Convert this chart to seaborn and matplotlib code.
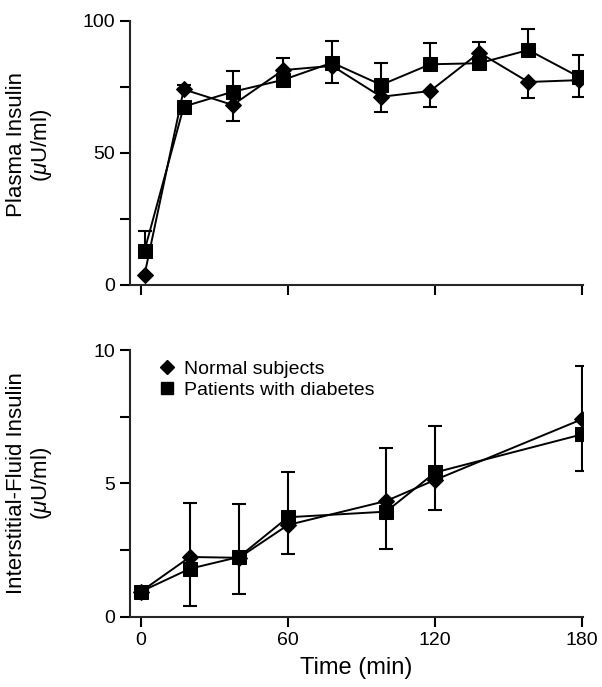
import numpy as np
import pandas as pd
import matplotlib
matplotlib.use("Agg")
import matplotlib.pyplot as plt
from matplotlib.lines import Line2D
import seaborn as sns

# Plasma insulin (top panel)
plasma_time = [1.5, 17.5, 37.5, 58, 78, 98, 118, 138, 158, 178.5]
plasma_normal = [3.8, 74.0, 68.1, 81.3, 82.9, 71.2, 73.4, 87.9, 76.8, 77.5]
plasma_normal_lo = [0, 0, 6.0, 0, 6.6, 5.6, 5.9, 0, 6.2, 6.3]
plasma_normal_hi = [0, 1.5, 0, 4.4, 0, 0, 0, 4.1, 0, 0]
plasma_diab = [13.0, 67.5, 73.1, 77.6, 84.1, 75.7, 83.5, 83.9, 88.9, 78.8]
plasma_diab_lo = [0, 0, 0, 0, 0, 0, 0, 0, 0, 0]
plasma_diab_hi = [7.6, 0, 8.0, 0, 8.1, 8.2, 7.9, 0, 8.0, 8.2]

# Interstitial-fluid insulin (bottom panel)
isf_time = [0, 20, 40, 60, 100, 120, 180]
isf_normal = [0.94, 2.24, 2.21, 3.44, 4.34, 5.13, 7.41]
isf_normal_lo = [0, 0, 0, 1.10, 0, 1.13, 0]
isf_normal_hi = [0, 2.01, 2.0, 0, 2.0, 0, 2.0]
isf_diab = [0.94, 1.80, 2.24, 3.73, 3.94, 5.41, 6.84]
isf_diab_lo = [0, 1.39, 1.40, 0, 1.40, 0, 1.38]
isf_diab_hi = [0, 0, 0, 1.71, 0, 1.73, 0]

groups = ["Normal subjects", "Patients with diabetes"]

sns.set_theme(style="ticks")
plt.rcParams["font.family"] = ["Liberation Sans", "DejaVu Sans"]
plt.rcParams["mathtext.fontset"] = "custom"
plt.rcParams["mathtext.it"] = "Liberation Sans:italic"
plt.rcParams["mathtext.rm"] = "Liberation Sans"
plt.rcParams["axes.linewidth"] = 1.5
plt.rcParams["text.color"] = "black"
plt.rcParams["axes.labelcolor"] = "black"
plt.rcParams["xtick.color"] = "black"
plt.rcParams["ytick.color"] = "black"


def draw_errors(ax, x, y, lo, hi):
    # one-sided bars: only the side that is given
    x = np.asarray(x, float)
    y = np.asarray(y, float)
    lo = np.asarray(lo, float)
    hi = np.asarray(hi, float)
    for err, up in ((lo, False), (hi, True)):
        m = err > 0
        if not m.any():
            continue
        yerr = [np.zeros(m.sum()), err[m]] if up else [err[m], np.zeros(m.sum())]
        ax.errorbar(x[m], y[m], yerr=yerr, fmt="none", ecolor="black",
                    elinewidth=1.5, capsize=4.7, capthick=1.5, zorder=1)


def panel(ax, t, normal, n_lo, n_hi, diab, d_lo, d_hi):
    draw_errors(ax, t, normal, n_lo, n_hi)
    draw_errors(ax, t, diab, d_lo, d_hi)
    df_n = pd.DataFrame({"time": t, "value": normal})
    df_d = pd.DataFrame({"time": t, "value": diab})
    sns.lineplot(data=df_n, x="time", y="value", color="black", lw=1.4,
                 marker="D", markersize=8.5, markeredgecolor="black",
                 estimator=None, legend=False, ax=ax, zorder=3)
    sns.lineplot(data=df_d, x="time", y="value", color="black", lw=1.4,
                 marker="s", markersize=9.5, markeredgecolor="black",
                 estimator=None, legend=False, ax=ax, zorder=3)
    ax.set_xlim(-4.4, 180.3)
    ax.set_xticks([0, 60, 120, 180])
    ax.tick_params(axis="both", which="both", direction="out", length=7,
                   width=1.5, labelsize=14, pad=4)
    sns.despine(ax=ax)


fig = plt.figure(figsize=(6.02, 6.87), dpi=100)
ax1 = fig.add_axes([0.216, 0.5852, 0.7525, 0.3847])
ax2 = fig.add_axes([0.216, 0.1023, 0.7525, 0.3882])

panel(ax1, plasma_time, plasma_normal, plasma_normal_lo, plasma_normal_hi,
      plasma_diab, plasma_diab_lo, plasma_diab_hi)
ax1.set_ylim(0, 100)
ax1.set_yticks([0, 50, 100])
ax1.set_yticks([25, 75], minor=True)
ax1.set_xticklabels([])
ax1.set_xlabel("")
ax1.set_ylabel("Plasma Insulin\n($\\mu$U/ml)", fontsize=16, linespacing=1.1)
ax1.yaxis.set_label_coords(-0.168, 0.53)

panel(ax2, isf_time, isf_normal, isf_normal_lo, isf_normal_hi,
      isf_diab, isf_diab_lo, isf_diab_hi)
ax2.set_ylim(0, 10)
ax2.set_yticks([0, 5, 10])
ax2.set_yticks([2.5, 7.5], minor=True)
ax2.set_xlabel("Time (min)", fontsize=17, labelpad=6)
ax2.set_ylabel("Interstitial-Fluid Insulin\n($\\mu$U/ml)", fontsize=16, linespacing=1.1)
ax2.yaxis.set_label_coords(-0.168, 0.5)

handles = [
    Line2D([], [], ls="none", marker="D", ms=7.5, color="black", label=groups[0]),
    Line2D([], [], ls="none", marker="s", ms=9, color="black", label=groups[1]),
]
ax2.legend(handles=handles, loc="upper left", bbox_to_anchor=(0.06, 0.96),
           frameon=False, fontsize=14, handlelength=1.0, handletextpad=0.4,
           labelspacing=0.15, borderpad=0, borderaxespad=0)

fig.savefig("out.png", dpi=100, facecolor="white")
